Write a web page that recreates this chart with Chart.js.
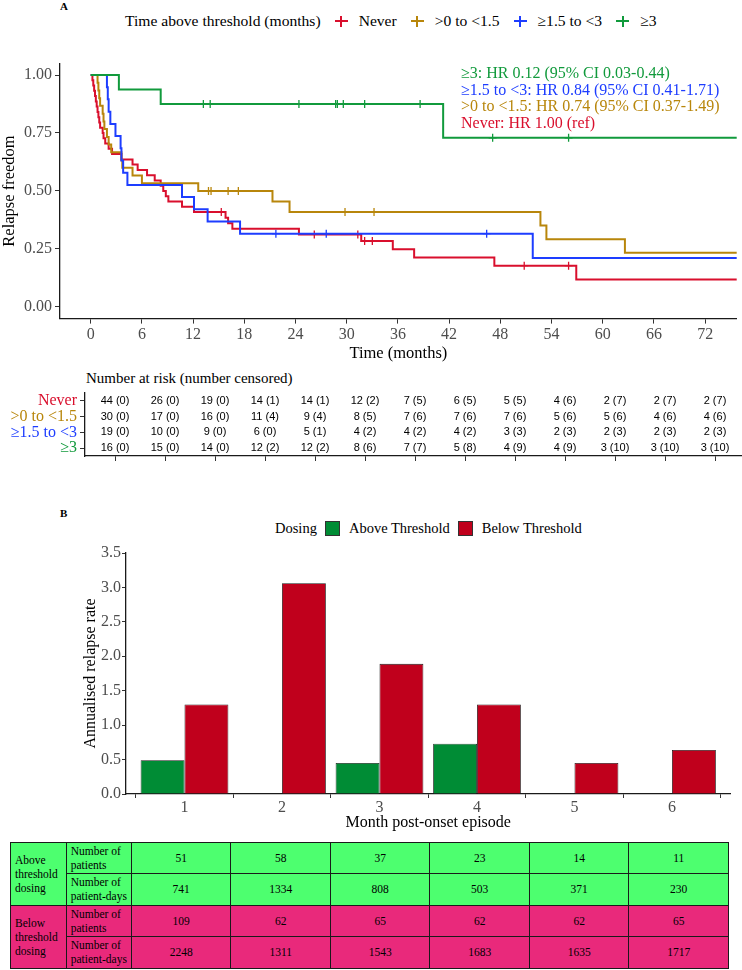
<!DOCTYPE html>
<html lang="en">

<head>
  <meta charset="UTF-8" />
  <meta name="viewport" content="width=device-width, initial-scale=1.0" />
  <title>Relapse freedom and annualised relapse rate</title>
  <script src="https://cdn.jsdelivr.net/npm/chart.js"></script>
  <style>
    html,
    body {
      margin: 0;
      padding: 0;
      background: #fff;
    }

    body {
      position: relative;
      width: 742px;
      height: 970px;
      overflow: hidden;
      font-family: 'Liberation Serif', 'DejaVu Serif', 'Times New Roman', serif;
      color: #000;
    }

    canvas,
    .abs {
      position: absolute;
    }

    .tag {
      left: 60px;
      font-weight: bold;
      font-size: 11px;
    }

    #kmLegend {
      left: 125px;
      top: 11px;
      height: 20px;
      display: flex;
      align-items: center;
      font-size: 15.6px;
      white-space: nowrap;
    }

    .key {
      position: relative;
      width: 13px;
      height: 11px;
      margin: 0 11px 0 14px;
    }

    .key::before {
      content: '';
      position: absolute;
      left: 0;
      right: 0;
      top: 4.5px;
      height: 2px;
      background: currentColor;
    }

    .key::after {
      content: '';
      position: absolute;
      left: 5.5px;
      width: 2px;
      top: 0;
      bottom: 0;
      background: currentColor;
    }

    #hrNotes {
      left: 461px;
      top: 65px;
      font-size: 16px;
      line-height: 16.7px;
      white-space: nowrap;
    }

    #riskTitle {
      left: 86px;
      top: 368px;
      font-size: 15px;
      line-height: 20px;
      white-space: nowrap;
    }

    #barLegend {
      left: 275px;
      top: 519px;
      height: 18px;
      display: flex;
      align-items: center;
      font-size: 14.5px;
      white-space: nowrap;
    }

    .box {
      width: 13px;
      height: 13px;
      border: 1px solid #333;
      margin: 0 9px 0 8px;
    }

    #doseTable {
      left: 10px;
      top: 842px;
      width: 718px;
      border-collapse: collapse;
      table-layout: fixed;
      font-size: 11.5px;
      line-height: 14px;
    }

    #doseTable td {
      border: 1px solid #1a1a1a;
      padding: 0 1px 0 4px;
      vertical-align: middle;
      overflow: hidden;
    }

    #doseTable td.num {
      text-align: center;
      padding: 0;
    }

    #doseTable tr.r1 td,
    #doseTable tr.r3 td {
      height: 29.5px;
    }

    #doseTable tr.r2 td,
    #doseTable tr.r4 td {
      height: 31.5px;
    }
  </style>
</head>

<body>
  <div class="abs tag" style="top:0px;">A</div>
  <div id="kmLegend" class="abs"></div>
  <canvas id="kmChart" width="742" height="318" style="left:0;top:50px;"></canvas>
  <div id="hrNotes" class="abs"></div>
  <div id="riskTitle" class="abs">Number at risk (number censored)</div>
  <canvas id="riskChart" width="742" height="92" style="left:0;top:378px;"></canvas>

  <div class="abs tag" style="top:507px;">B</div>
  <div id="barLegend" class="abs"></div>
  <canvas id="barChart" width="672" height="300" style="left:70px;top:535px;"></canvas>
  <table id="doseTable" class="abs"></table>

  <script>
    // ---------- A: relapse freedom by time above threshold ----------
    const groupNames = ['Never', '>0 to <1.5', '≥1.5 to <3', '≥3'];
    const groupColors = ['#D90F2D', '#B8860B', '#1D3DFF', '#119A3C'];
    const hrLabels = ['Never: HR 1.00 (ref)', '>0 to <1.5: HR 0.74 (95% CI 0.37-1.49)',
      '≥1.5 to <3: HR 0.84 (95% CI 0.41-1.71)', '≥3: HR 0.12 (95% CI 0.03-0.44)'];

    // step curves (time in months, survival after the step)
    const neverTimes = [0, 0.2, 0.3, 0.4, 0.5, 0.6, 0.7, 0.8, 0.9, 1.0, 1.1, 1.4, 1.5, 1.7, 2.1, 2.5, 3.6, 4.9, 5.5,
      6.6, 7.5, 8.2, 8.5, 8.8, 9.1, 10.7, 12.1, 15.8, 16.1, 16.6, 24.4, 31.7, 35.4, 37.9, 47.3, 56.9, 76];
    const neverSurv = [1, 0.977, 0.955, 0.932, 0.909, 0.886, 0.864, 0.841, 0.818, 0.795, 0.773, 0.75, 0.727, 0.705,
      0.682, 0.659, 0.636, 0.614, 0.591, 0.568, 0.545, 0.523, 0.5, 0.477, 0.455, 0.432, 0.409, 0.385, 0.361, 0.337,
      0.313, 0.284, 0.249, 0.213, 0.178, 0.119, 0.119];
    const neverCensor = [15.3, 26.2, 31.3, 32.1, 33.0, 50.8, 56.0];

    const lowTimes = [0, 0.8, 0.9, 1.0, 1.1, 1.4, 1.5, 1.6, 1.9, 2.1, 2.4, 3.6, 3.7, 4.9, 6.0, 12.6, 21.3, 23.3,
      52.7, 53.4, 62.6, 76];
    const lowSurv = [1, 0.967, 0.933, 0.9, 0.867, 0.833, 0.8, 0.767, 0.733, 0.7, 0.667, 0.633, 0.6, 0.567, 0.533,
      0.5, 0.455, 0.409, 0.351, 0.292, 0.234, 0.234];
    const lowCensor = [13.8, 14.1, 16.1, 17.3, 29.8, 33.2];

    const midTimes = [0, 1.9, 2.0, 2.1, 2.3, 2.9, 3.5, 3.6, 3.8, 4.3, 10.7, 12.1, 13.7, 17.5, 51.8, 76];
    const midSurv = [1, 0.947, 0.895, 0.842, 0.789, 0.737, 0.684, 0.632, 0.579, 0.526, 0.474, 0.421, 0.368, 0.316,
      0.211, 0.211];
    const midCensor = [21.7, 27.6, 46.4];

    const highTimes = [0, 3.3, 8.2, 41.3, 76];
    const highSurv = [1, 0.938, 0.875, 0.729, 0.729];
    const highCensor = [13.2, 14.0, 24.4, 28.7, 28.9, 29.6, 32.1, 38.6, 47.1, 56.0];

    const kmTimeTicks = [0, 6, 12, 18, 24, 30, 36, 42, 48, 54, 60, 66, 72];
    const kmSurvTicks = [0, 0.25, 0.5, 0.75, 1];

    // number at risk (number censored) at each tick
    const riskTimes = [0, 6, 12, 18, 24, 30, 36, 42, 48, 54, 60, 66, 72];
    const neverAtRisk = [44, 26, 19, 14, 14, 12, 7, 6, 5, 4, 2, 2, 2];
    const neverCens = [0, 0, 0, 1, 1, 2, 5, 5, 5, 6, 7, 7, 7];
    const lowAtRisk = [30, 17, 16, 11, 9, 8, 7, 7, 7, 5, 5, 4, 4];
    const lowCens = [0, 0, 0, 4, 4, 5, 6, 6, 6, 6, 6, 6, 6];
    const midAtRisk = [19, 10, 9, 6, 5, 4, 4, 4, 3, 2, 2, 2, 2];
    const midCens = [0, 0, 0, 0, 1, 2, 2, 2, 3, 3, 3, 3, 3];
    const highAtRisk = [16, 15, 14, 12, 12, 8, 7, 5, 4, 4, 3, 3, 3];
    const highCens = [0, 0, 0, 2, 2, 6, 7, 8, 9, 9, 10, 10, 10];

    // ---------- B: annualised relapse rate ----------
    const months = [1, 2, 3, 4, 5, 6];
    const aboveRate = [0.49, null, 0.45, 0.73, null, null];
    const belowRate = [1.30, 3.06, 1.89, 1.30, 0.45, 0.64];
    const doseNames = ['Above Threshold', 'Below Threshold'];
    const doseColors = ['#008C35', '#C0001C'];
    const rateTicks = [0, 0.5, 1, 1.5, 2, 2.5, 3, 3.5];

    const abovePatients = [51, 58, 37, 23, 14, 11];
    const aboveDays = [741, 1334, 808, 503, 371, 230];
    const belowPatients = [109, 62, 65, 62, 62, 65];
    const belowDays = [2248, 1311, 1543, 1683, 1635, 1717];

    Chart.defaults.animation = false;
    Chart.defaults.font.family = "'Liberation Serif', 'DejaVu Serif', serif";

    const serif = "'Liberation Serif', 'DejaVu Serif', serif";
    const tickGrey = '#4D4D4D';
    const axisBlack = '#1a1a1a';

    // legend for A
    const kmLegend = document.getElementById('kmLegend');
    kmLegend.innerHTML = '<span>Time above threshold (months)</span>' +
      groupNames.map((g, i) => '<span class="key" style="color:' + groupColors[i] + '"></span><span>' + g + '</span>').join('');

    document.getElementById('hrNotes').innerHTML = [3, 2, 1, 0]
      .map(i => '<div style="color:' + groupColors[i] + '">' + hrLabels[i] + '</div>').join('');

    function kmPoints(times, surv) {
      return times.map((t, i) => ({ x: t, y: surv[i] }));
    }

    function survAt(times, surv, t) {
      let s = surv[0];
      for (let i = 0; i < times.length; i++) {
        if (times[i] <= t) s = surv[i];
      }
      return s;
    }

    const curves = [
      [neverTimes, neverSurv, neverCensor],
      [lowTimes, lowSurv, lowCensor],
      [midTimes, midSurv, midCensor],
      [highTimes, highSurv, highCensor]
    ];

    const kmDatasets = [];
    curves.forEach((c, i) => {
      kmDatasets.push({
        label: groupNames[i],
        data: kmPoints(c[0], c[1]),
        borderColor: groupColors[i],
        borderWidth: 2,
        pointRadius: 0,
        stepped: true,
        fill: false,
        order: 4 - i
      });
      kmDatasets.push({
        label: groupNames[i] + ' censored',
        data: c[2].map(t => ({ x: t, y: survAt(c[0], c[1], t) })),
        showLine: false,
        pointStyle: 'cross',
        pointRadius: 4,
        borderColor: groupColors[i],
        borderWidth: 1.3,
        order: 4 - i
      });
    });

    new Chart(document.getElementById('kmChart'), {
      type: 'line',
      data: { datasets: kmDatasets },
      options: {
        responsive: false,
        layout: { padding: { top: 13.4, right: 0, bottom: 0, left: 0 } },
        plugins: { legend: { display: false }, tooltip: { enabled: false } },
        scales: {
          x: {
            type: 'linear',
            min: -3.6,
            max: 75.7,
            afterBuildTicks: s => { s.ticks = kmTimeTicks.map(v => ({ value: v })); },
            afterFit: s => { s.height = 49.4; },
            ticks: { color: tickGrey, font: { size: 16, family: serif }, padding: 2 },
            grid: { display: true, drawOnChartArea: false, drawTicks: true, tickLength: 5, color: '#333' },
            border: { display: true, color: axisBlack, width: 1.3 },
            title: { display: true, text: 'Time (months)', color: '#000', font: { size: 16.5, family: serif }, padding: { top: 0, bottom: 4 } }
          },
          y: {
            type: 'linear',
            min: -0.05,
            max: 1.05,
            afterBuildTicks: s => { s.ticks = kmSurvTicks.map(v => ({ value: v })); },
            afterFit: s => { s.width = 60; },
            ticks: { color: tickGrey, font: { size: 16, family: serif }, padding: 3, callback: v => v.toFixed(2) },
            grid: { display: true, drawOnChartArea: false, drawTicks: true, tickLength: 5, color: '#333' },
            border: { display: true, color: axisBlack, width: 1.3 },
            title: { display: true, text: 'Relapse freedom', color: '#000', font: { size: 16.5, family: serif }, padding: { top: 0, bottom: 0 } }
          }
        }
      }
    });

    // risk table drawn at scale positions
    const riskRows = [
      [neverAtRisk, neverCens],
      [lowAtRisk, lowCens],
      [midAtRisk, midCens],
      [highAtRisk, highCens]
    ];

    const riskTextPlugin = {
      id: 'riskText',
      afterDatasetsDraw(chart) {
        const ctx = chart.ctx;
        ctx.save();
        ctx.font = "11px 'Liberation Sans', Arial, sans-serif";
        ctx.fillStyle = '#000';
        ctx.textAlign = 'center';
        ctx.textBaseline = 'middle';
        chart.data.datasets.forEach((ds, i) => {
          chart.getDatasetMeta(i).data.forEach((pt, j) => {
            ctx.fillText(ds.cellText[j], pt.x, pt.y);
          });
        });
        ctx.restore();
      }
    };

    new Chart(document.getElementById('riskChart'), {
      type: 'scatter',
      data: {
        datasets: riskRows.map((r, i) => ({
          label: groupNames[i],
          data: riskTimes.map(t => ({ x: t, y: groupNames[i] })),
          cellText: r[0].map((n, j) => n + ' (' + r[1][j] + ')'),
          pointRadius: 0
        }))
      },
      options: {
        responsive: false,
        layout: { padding: { top: 15, right: 0, bottom: 0, left: 0 } },
        plugins: { legend: { display: false }, tooltip: { enabled: false } },
        scales: {
          x: {
            type: 'linear',
            min: -3.6,
            max: 75.24,
            afterBuildTicks: s => { s.ticks = riskTimes.map(v => ({ value: v })); },
            afterFit: s => { s.height = 14; },
            ticks: { display: false },
            grid: { display: true, drawOnChartArea: false, drawTicks: true, tickLength: 5, color: '#333' },
            border: { display: true, color: axisBlack, width: 1.3 }
          },
          y: {
            type: 'category',
            labels: groupNames,
            offset: true,
            afterFit: s => { s.width = 85; },
            ticks: { autoSkip: false, color: c => groupColors[c.index], font: { size: 16, family: serif }, padding: 3 },
            grid: { display: true, drawOnChartArea: false, drawTicks: true, tickLength: 5, color: '#333' },
            border: { display: true, color: axisBlack, width: 1.3 }
          }
        }
      },
      plugins: [riskTextPlugin]
    });

    // ---------- B ----------
    document.getElementById('barLegend').innerHTML = '<span>Dosing</span>' +
      doseNames.map((d, i) => '<span class="box" style="background:' + doseColors[i] + '"></span><span>' + d + '</span>').join('');

    const rateSeries = [aboveRate, belowRate];

    new Chart(document.getElementById('barChart'), {
      type: 'bar',
      data: {
        datasets: rateSeries.map((vals, i) => ({
          label: doseNames[i],
          data: months.map((m, j) => ({ x: m, y: vals[j] })).filter(p => p.y !== null),
          backgroundColor: doseColors[i],
          borderColor: '#1a1a1a',
          borderWidth: 0.8,
          categoryPercentage: 0.9,
          barPercentage: 1.0
        }))
      },
      options: {
        responsive: false,
        layout: { padding: { top: 18, right: 11.5, bottom: 0, left: 0 } },
        plugins: { legend: { display: false }, tooltip: { enabled: false } },
        scales: {
          x: {
            type: 'linear',
            offset: false,
            min: 0.4,
            max: 6.6,
            afterBuildTicks: s => { s.ticks = months.map(v => ({ value: v })); },
            afterFit: s => { s.height = 41; },
            ticks: { color: tickGrey, font: { size: 16, family: serif }, padding: 0 },
            grid: { display: true, drawOnChartArea: false, drawTicks: true, tickLength: 4, color: '#333' },
            border: { display: true, color: axisBlack, width: 1.3 },
            title: { display: true, text: 'Month post-onset episode', color: '#000', font: { size: 16, family: serif }, padding: { top: 0, bottom: 2.5 } }
          },
          y: {
            min: 0,
            max: 3.5,
            afterBuildTicks: s => { s.ticks = rateTicks.map(v => ({ value: v })); },
            afterFit: s => { s.width = 56; },
            ticks: { color: tickGrey, font: { size: 16, family: serif }, padding: 1, callback: v => v.toFixed(1) },
            grid: { display: true, drawOnChartArea: false, drawTicks: true, tickLength: 4, color: '#333' },
            border: { display: true, color: axisBlack, width: 1.3 },
            title: { display: true, text: 'Annualised relapse rate', color: '#000', font: { size: 16, family: serif }, padding: { top: 11, bottom: 0 } }
          }
        }
      }
    });

    // table under B
    const tableGroups = [
      { name: 'Above threshold dosing', colour: '#4DFF6F', rows: [abovePatients, aboveDays] },
      { name: 'Below threshold dosing', colour: '#E9297B', rows: [belowPatients, belowDays] }
    ];
    const rowNames = ['Number of patients', 'Number of patient-days'];

    let html = '<colgroup><col style="width:55.7px"><col style="width:65.3px">' +
      months.map(() => '<col style="width:99.5px">').join('') + '</colgroup>';
    let r = 0;
    tableGroups.forEach(g => {
      g.rows.forEach((vals, k) => {
        r++;
        html += '<tr class="r' + r + '" style="background:' + g.colour + '">';
        if (k === 0) html += '<td rowspan="2">' + g.name + '</td>';
        html += '<td>' + rowNames[k] + '</td>';
        html += vals.map(v => '<td class="num">' + v + '</td>').join('');
        html += '</tr>';
      });
    });
    document.getElementById('doseTable').innerHTML = html;
  </script>
</body>

</html>
